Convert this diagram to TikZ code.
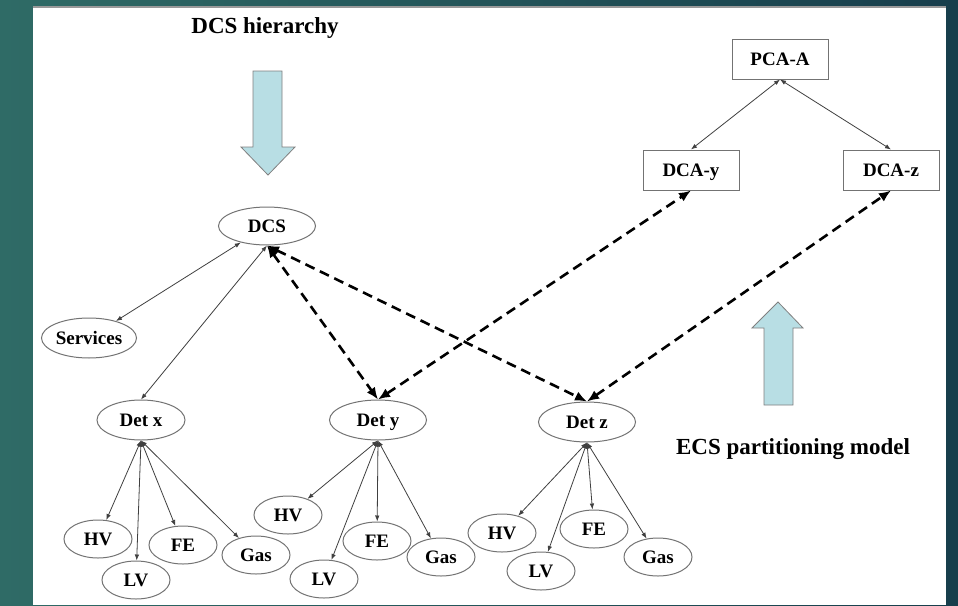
\documentclass[tikz,border=0pt]{standalone}
\usepackage{fontspec}
\setmainfont{Liberation Serif}
\usetikzlibrary{shapes.geometric, arrows.meta}

\definecolor{slideteal}{RGB}{47,107,102}
\definecolor{slidedark}{RGB}{23,62,76}
\definecolor{blockblue}{RGB}{184,222,228}

\tikzset{
  unit/.style={ellipse, draw=black!55, line width=1pt, inner sep=0pt,
    minimum width=68, minimum height=38, text height=12.5pt, text depth=0pt,
    font=\bfseries\fontsize{19}{19}\selectfont},
  bigunit/.style={unit, minimum width=97},
  agent/.style={rectangle, draw=black!55, line width=1pt, inner sep=0pt,
    minimum width=96, minimum height=40, text height=12.5pt, text depth=0pt,
    font=\bfseries\fontsize{19}{19}\selectfont},
  link/.style={black!75, line width=0.8pt, {Latex[length=6pt,width=4.5pt]}-{Latex[length=6pt,width=4.5pt]}},
  part/.style={black, line width=2.6pt, dash pattern=on 10pt off 6pt,
    {Latex[length=12pt,width=10pt]}-{Latex[length=12pt,width=10pt]}},
  block/.style={fill=blockblue, draw=black!50, line width=0.8pt},
  title/.style={font=\bfseries\fontsize{23}{23}\selectfont}
}

\begin{document}
\begin{tikzpicture}[x=1pt, y=-1pt]
    % Slide background:
    \shade[left color=slideteal, right color=slidedark] (0,0) rectangle (958,605);
    \fill[white] (33,8) rectangle (946,605);
    \draw[black!40, line width=2pt] (33,7) -- (946,7);
    \useasboundingbox (0,0) rectangle (958,605);

    % Labels and the two big arrows:
    \node[title] (hier) at (265,28) {DCS hierarchy};
    \node[title] (ecs) at (793,449) {ECS partitioning model};
    \draw[block] (253,71) -- (282,71) -- (282,147) -- (295,147) -- (268,175)
                 -- (241,147) -- (253,147) -- cycle;
    \draw[block] (764,405) -- (793,405) -- (793,328) -- (803,328) -- (778,302)
                 -- (752,328) -- (764,328) -- cycle;

    % DCS tree:
    \node[bigunit] (dcs) at (267,226) {DCS};
    \node[unit, minimum width=95, minimum height=40] (serv) at (89,338) {Services};
    \node[unit, minimum width=88, minimum height=40] (detx) at (141,420) {Det x};
    \node[bigunit, minimum height=40] (dety) at (378,420) {Det y};
    \node[bigunit, minimum height=40] (detz) at (587,422) {Det z};

    \node[unit] (xhv) at (98,539) {HV};
    \node[unit] (xlv) at (136,580) {LV};
    \node[unit] (xfe) at (183,545) {FE};
    \node[unit] (xgas) at (256,555) {Gas};

    \node[unit] (yhv) at (288,515) {HV};
    \node[unit] (ylv) at (324,579) {LV};
    \node[unit] (yfe) at (377,541) {FE};
    \node[unit] (ygas) at (441,557) {Gas};

    \node[unit] (zhv) at (502,533) {HV};
    \node[unit] (zlv) at (541,571) {LV};
    \node[unit] (zfe) at (594,529) {FE};
    \node[unit] (zgas) at (658,557) {Gas};

    % Partitioning agents:
    \node[agent] (pca) at (780,59) {PCA-A};
    \node[agent] (dcay) at (691,170) {DCA-y};
    \node[agent] (dcaz) at (891,170) {DCA-z};

    % Links:
    \draw[link] (dcs) -- (serv);
    \draw[link] (dcs.south) -- (detx.north);
    \foreach \d in {x,y,z}{%
        \foreach \c in {hv,lv,fe,gas}
            \draw[link] (det\d.south) -- (\d\c);
    }
    \draw[link] (pca.south) -- (dcay.north);
    \draw[link] (pca.south) -- (dcaz.north);

    % Dashed partition links:
    \draw[part] (dcs.south) -- (dety.north);
    \draw[part] (dcs.south) -- (detz.north);
    \draw[part] (dety.north) -- (dcay.south);
    \draw[part] (detz.north) -- (dcaz.south);
\end{tikzpicture}
\end{document}
